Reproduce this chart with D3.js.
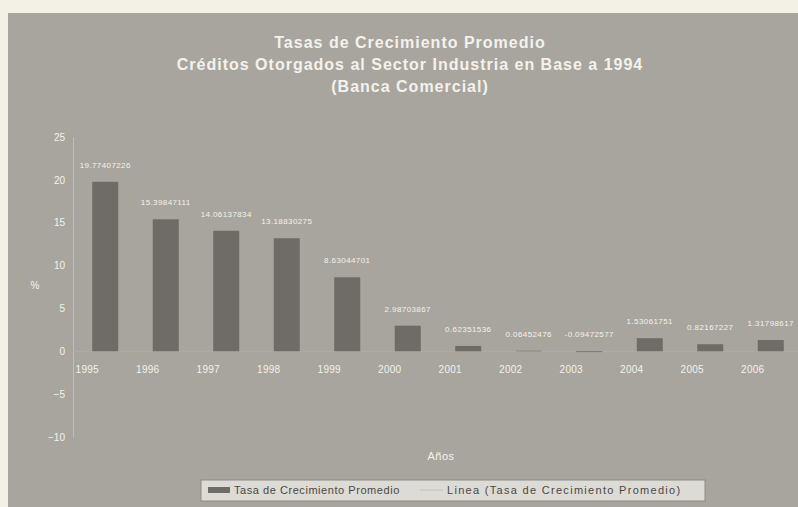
<!DOCTYPE html>
<html>
<head>
<meta charset="utf-8">
<script src="https://cdn.jsdelivr.net/npm/d3@7"></script>
<style>
  html, body { margin: 0; padding: 0; background: #f3f1e6; }
  svg { display: block; }
  text { font-family: "Liberation Sans", Arial, sans-serif; }
</style>
</head>
<body>
<svg id="chart" width="798" height="507"></svg>
<script>
// Años y tasas de crecimiento promedio (%)
const years = ["1995", "1996", "1997", "1998", "1999", "2000", "2001", "2002", "2003", "2004", "2005", "2006"];
const rates = [19.77407226, 15.39847111, 14.06137834, 13.18830275, 8.63044701, 2.98703867,
               0.62351536, 0.06452476, -0.09472577, 1.53061751, 0.82167227, 1.31798617];
const rateLabels = ["19.77407226", "15.39847111", "14.06137834", "13.18830275", "8.63044701", "2.98703867",
                    "0.62351536", "0.06452476", "-0.09472577", "1.53061751", "0.82167227", "1.31798617"];
const yTicks = [-10, -5, 0, 5, 10, 15, 20, 25];
const titleLines = ["Tasas de Crecimiento Promedio",
                    "Créditos Otorgados al Sector Industria en Base a 1994",
                    "(Banca Comercial)"];

const svg = d3.select("#chart");
const textColor = "#f4f2ec";

// panel background
svg.append("rect").attr("x", 8).attr("y", 13).attr("width", 790).attr("height", 494)
  .attr("fill", "#a8a59e");

const x = d3.scaleBand().domain(years).range([75, 801]).paddingInner(0.57).paddingOuter(0.285);
const y = d3.scaleLinear().domain([-10, 25]).range([437, 137]);

// y axis
const yAxis = svg.append("g").attr("transform", "translate(73,0)")
  .call(d3.axisLeft(y).tickValues(yTicks).tickSize(0).tickPadding(8));
yAxis.select(".domain").attr("stroke", "#c2bfb8").attr("stroke-width", 1);
yAxis.selectAll("text").attr("fill", textColor).attr("font-size", 10);

// zero line
svg.append("line").attr("x1", 73).attr("x2", 798).attr("y1", y(0)).attr("y2", y(0))
  .attr("stroke", "#b0ada6").attr("stroke-width", 1);

// bars
svg.append("g").selectAll("rect").data(years).join("rect")
  .attr("x", d => x(d))
  .attr("width", x.bandwidth())
  .attr("y", (d, i) => y(Math.max(0, rates[i])))
  .attr("height", (d, i) => Math.abs(y(rates[i]) - y(0)))
  .attr("fill", "#6f6c67");

// value labels
svg.append("g").selectAll("text").data(years).join("text")
  .attr("x", d => x(d) + x.bandwidth() / 2)
  .attr("y", (d, i) => y(Math.max(0, rates[i])) - 14)
  .attr("text-anchor", "middle")
  .attr("font-size", 8)
  .attr("letter-spacing", 0.4)
  .attr("fill", textColor)
  .text((d, i) => rateLabels[i]);

// category labels just below the zero line
svg.append("g").selectAll("text").data(years).join("text")
  .attr("x", d => x(d) + x.bandwidth() / 2 - 18)
  .attr("y", y(0) + 22)
  .attr("text-anchor", "middle")
  .attr("font-size", 10)
  .attr("letter-spacing", 0.3)
  .attr("fill", textColor)
  .text(d => d);

// titles
svg.append("g").selectAll("text").data(titleLines).join("text")
  .attr("x", 410)
  .attr("y", (d, i) => 48 + i * 22)
  .attr("text-anchor", "middle")
  .attr("font-size", 16)
  .attr("font-weight", "bold")
  .attr("letter-spacing", 1)
  .attr("fill", textColor)
  .text(d => d);

// axis titles
svg.append("text").attr("x", 35).attr("y", 289).attr("text-anchor", "middle")
  .attr("font-size", 10).attr("fill", textColor).text("%");
svg.append("text").attr("x", 441).attr("y", 460).attr("text-anchor", "middle")
  .attr("font-size", 11).attr("letter-spacing", 0.5).attr("fill", textColor).text("Años");

// legend
const lg = svg.append("g");
lg.append("rect").attr("x", 201).attr("y", 480).attr("width", 504).attr("height", 21)
  .attr("fill", "#dddbd5").attr("stroke", "#8e8b85").attr("stroke-width", 1);
lg.append("rect").attr("x", 208).attr("y", 487).attr("width", 22).attr("height", 6)
  .attr("fill", "#6f6c67");
lg.append("text").attr("x", 234).attr("y", 494).attr("font-size", 11)
  .attr("letter-spacing", 0.55)
  .attr("fill", "#4a4844").text("Tasa de Crecimiento Promedio");
lg.append("line").attr("x1", 420).attr("x2", 443).attr("y1", 490).attr("y2", 490)
  .attr("stroke", "#c4c2bc").attr("stroke-width", 1);
lg.append("text").attr("x", 447).attr("y", 494).attr("font-size", 11)
  .attr("letter-spacing", 1.3)
  .attr("fill", "#4a4844").text("Linea (Tasa de Crecimiento Promedio)");
</script>
</body>
</html>
